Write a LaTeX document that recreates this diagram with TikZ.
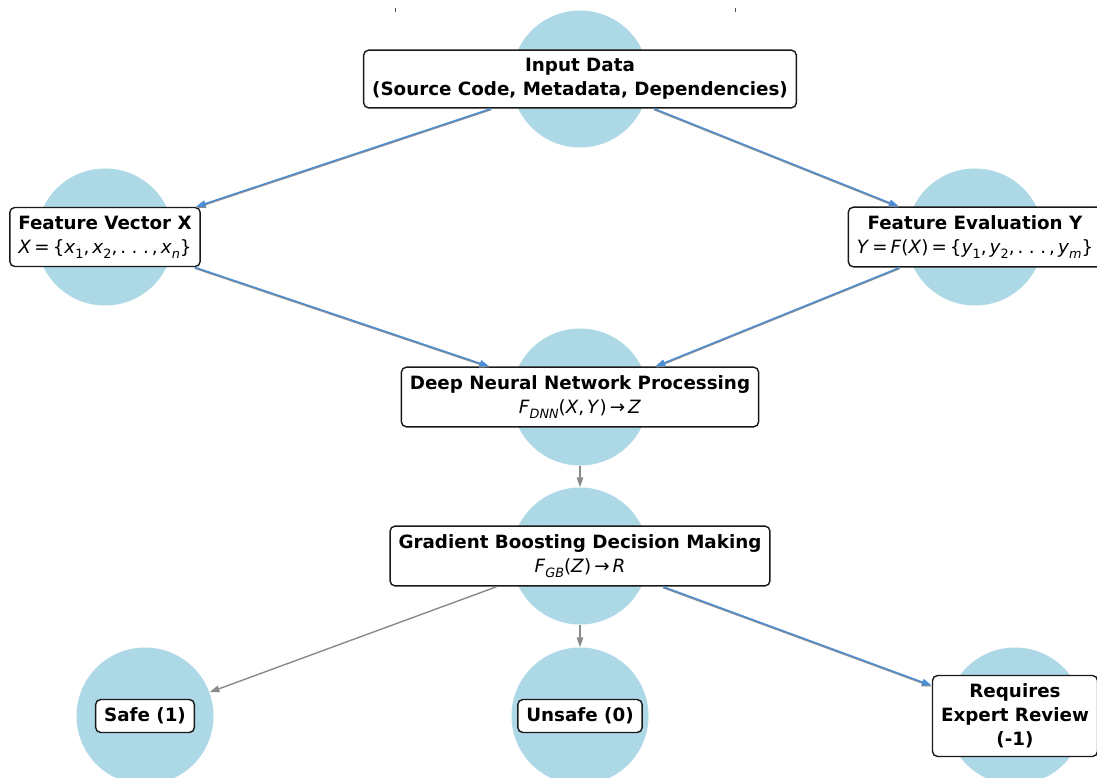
\documentclass[tikz,border=0pt]{standalone}
\usepackage{fontspec}
\setmainfont{DejaVu Sans}
\usetikzlibrary{arrows.meta}

\definecolor{blobblue}{HTML}{ADD8E6}
\definecolor{flowblue}{HTML}{4C8FD6}
\definecolor{flowgray}{HTML}{8A8A8A}

% italic letters, subscripts and spaced dots for the formula lines
\newcommand\mv[1]{\textit{#1}}
\newcommand\lo[1]{\raisebox{-0.28em}{\fontsize{12.8}{13}\selectfont #1}}
\newcommand\sdots{.\hspace{0.3em}.\hspace{0.3em}.}

\begin{document}
\begin{tikzpicture}[x=1pt, y=-1pt,
		>={Triangle[length=10pt, width=6.5pt]},
		blob/.style={circle, fill=blobblue, minimum size=137pt, inner sep=0pt},
		card/.style={draw=black!90, line width=1.4pt, fill=white, rounded corners=5pt,
			inner xsep=8.5pt, inner ysep=8.3pt, align=center,
			font=\fontsize{18.3}{24}\selectfont},
		flow/.style={->, draw=flowgray, fill=flowgray, line width=1.4pt},
		hiflow/.style={->, draw=flowblue, fill=flowblue, line width=1.4pt}]

	\useasboundingbox (0,0) rectangle (1097,778);

	% small marks along the top edge
	\draw[black!70, line width=0.8pt] (395,8) -- (395,12);
	\draw[black!70, line width=0.8pt] (735,8) -- (735,12);

	% discs behind the labels, cut at the top
	\begin{scope}
		\clip (0,10) rectangle (1097,778);
		\node[blob] (in-c) at (580,79) {};
		\node[blob] (fv-c) at (105,237) {};
		\node[blob] (fe-c) at (975,237) {};
		\node[blob] (dnn-c) at (580,397) {};
		\node[blob] (gb-c) at (580,556) {};
		\node[blob] (safe-c) at (145,716) {};
		\node[blob] (unsafe-c) at (580,716) {};
		\node[blob] (review-c) at (1015,716) {};
	\end{scope}

	% labels
	\node[card] (in) at (in-c) {\textbf{Input Data}\\\textbf{(Source Code, Metadata, Dependencies)}};
	\node[card] (fv) at (fv-c) {\textbf{Feature Vector X}\\
		\mv{X}\,=\,\{\mv{x}\lo{1},\,\mv{x}\lo{2},\,\sdots\,,\,\mv{x}\lo{\itshape n}\}};
	\node[card] (fe) at (fe-c) {\textbf{Feature Evaluation Y}\\
		\mv{Y}\,=\,\mv{F}(\mv{X})\,=\,\{\mv{y}\lo{1},\,\mv{y}\lo{2},\,\sdots\,,\,\mv{y}\lo{\itshape m}\}};
	\node[card] (dnn) at (dnn-c) {\textbf{Deep Neural Network Processing}\\
		\mv{F}\lo{\itshape DNN}(\mv{X},\,\mv{Y})\,→\,\mv{Z}};
	\node[card] (gb) at (gb-c) {\textbf{Gradient Boosting Decision Making}\\
		\mv{F}\lo{\itshape GB}(\mv{Z})\,→\,\mv{R}};
	\node[card] (safe) at (safe-c) {\textbf{Safe (1)}};
	\node[card] (unsafe) at (unsafe-c) {\textbf{Unsafe (0)}};
	\node[card] (review) at (review-c) {\textbf{Requires}\\\textbf{Expert Review}\\\textbf{(-1)}};

	% highlighted path, gray line under the blue one
	\foreach \a/\b in {in/fv, in/fe, fv/dnn, fe/dnn, gb/review} {
		\draw[flow, transform canvas={yshift=-1pt}] (\a) -- (\b);
		\draw[hiflow] (\a) -- (\b);
	}

	% plain gray arrows
	\draw[flow] (dnn-c) -- (gb-c);
	\draw[flow] (gb) -- (safe-c);
	\draw[flow] (gb-c) -- (unsafe-c);
\end{tikzpicture}
\end{document}
